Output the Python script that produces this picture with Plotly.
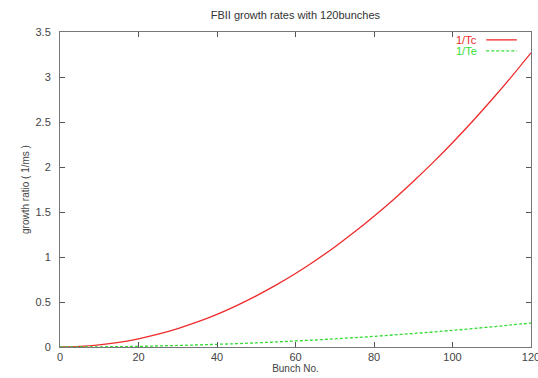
import plotly.graph_objects as go

bunches = [0, 5, 10, 15, 20, 25, 30, 35, 40, 45, 50, 55, 60, 65, 70, 75, 80, 85, 90, 95, 100, 105, 110, 115, 120]
inv_tc = [0.0, 0.006, 0.023, 0.051, 0.091, 0.142, 0.204, 0.278, 0.363, 0.460, 0.568, 0.687, 0.817,
          0.959, 1.112, 1.277, 1.453, 1.640, 1.839, 2.049, 2.270, 2.503, 2.747, 3.002, 3.269]
inv_te = [0.0, 0.0005, 0.002, 0.004, 0.007, 0.012, 0.017, 0.023, 0.030, 0.037, 0.046, 0.056, 0.067,
          0.078, 0.091, 0.104, 0.118, 0.134, 0.150, 0.167, 0.185, 0.204, 0.224, 0.245, 0.266]
series_names = ["1/Tc", "1/Te"]
x_ticks = [0, 20, 40, 60, 80, 100, 120]
y_ticks = [0, 0.5, 1, 1.5, 2, 2.5, 3, 3.5]
y_tick_labels = ["0", "0.5", "1", "1.5", "2", "2.5", "3", "3.5"]

RED = "#ee2a2a"
GREEN = "#33dd33"
FONT = "Liberation Sans, Arial, sans-serif"

fig = go.Figure()
fig.add_trace(go.Scatter(x=bunches, y=inv_tc, mode="lines", name=series_names[0],
                         line=dict(color=RED, width=1.3, shape="spline"), showlegend=False))
fig.add_trace(go.Scatter(x=bunches, y=inv_te, mode="lines", name=series_names[1],
                         line=dict(color=GREEN, width=1.3, dash="3px,2px", shape="spline"), showlegend=False))

axis_common = dict(showgrid=False, zeroline=False, showline=True, linecolor="#777777", linewidth=1,
                   mirror="ticks", ticks="inside", ticklen=5, tickcolor="#555555", automargin=False,
                   ticklabeloverflow="allow",
                   tickfont=dict(family=FONT, size=11, color="#444444"))

fig.update_xaxes(range=[0, 120], tickvals=x_ticks, ticktext=[str(v) for v in x_ticks],
                 title=dict(text="Bunch No.", font=dict(family=FONT, size=10, color="#444444"), standoff=0),
                 **axis_common)
fig.update_yaxes(range=[0, 3.5], tickvals=y_ticks, ticktext=y_tick_labels, ticklabelstandoff=6,
                 title=dict(text="growth ratio ( 1/ms )", font=dict(family=FONT, size=10, color="#444444"), standoff=4),
                 **axis_common)

# custom gnuplot-style legend (text left, sample on the right)
legend_rows = [(series_names[0], RED, "solid", 0.975), (series_names[1], GREEN, "3px,2px", 0.94)]
for name, color, dash, yp in legend_rows:
    fig.add_annotation(xref="paper", yref="paper", x=0.89, y=yp, text=name, showarrow=False,
                       xanchor="right", yanchor="middle", font=dict(family=FONT, size=11, color=color))
    fig.add_shape(type="line", xref="paper", yref="paper", x0=0.905, x1=0.97, y0=yp, y1=yp,
                  line=dict(color=color, width=1.3, dash=dash))

fig.update_layout(
    width=538, height=378,
    margin=dict(l=60, r=7, t=32, b=31, autoexpand=False),
    paper_bgcolor="white", plot_bgcolor="white",
    title=dict(text="FBII growth rates with 120bunches", x=0.549, xanchor="center", y=0.96, yanchor="middle",
               automargin=False, font=dict(family=FONT, size=11, color="#333333")),
)

fig.write_html("out.html", config={"displayModeBar": False},
               post_script="document.body.style.margin='0';document.body.style.overflow='hidden';")
